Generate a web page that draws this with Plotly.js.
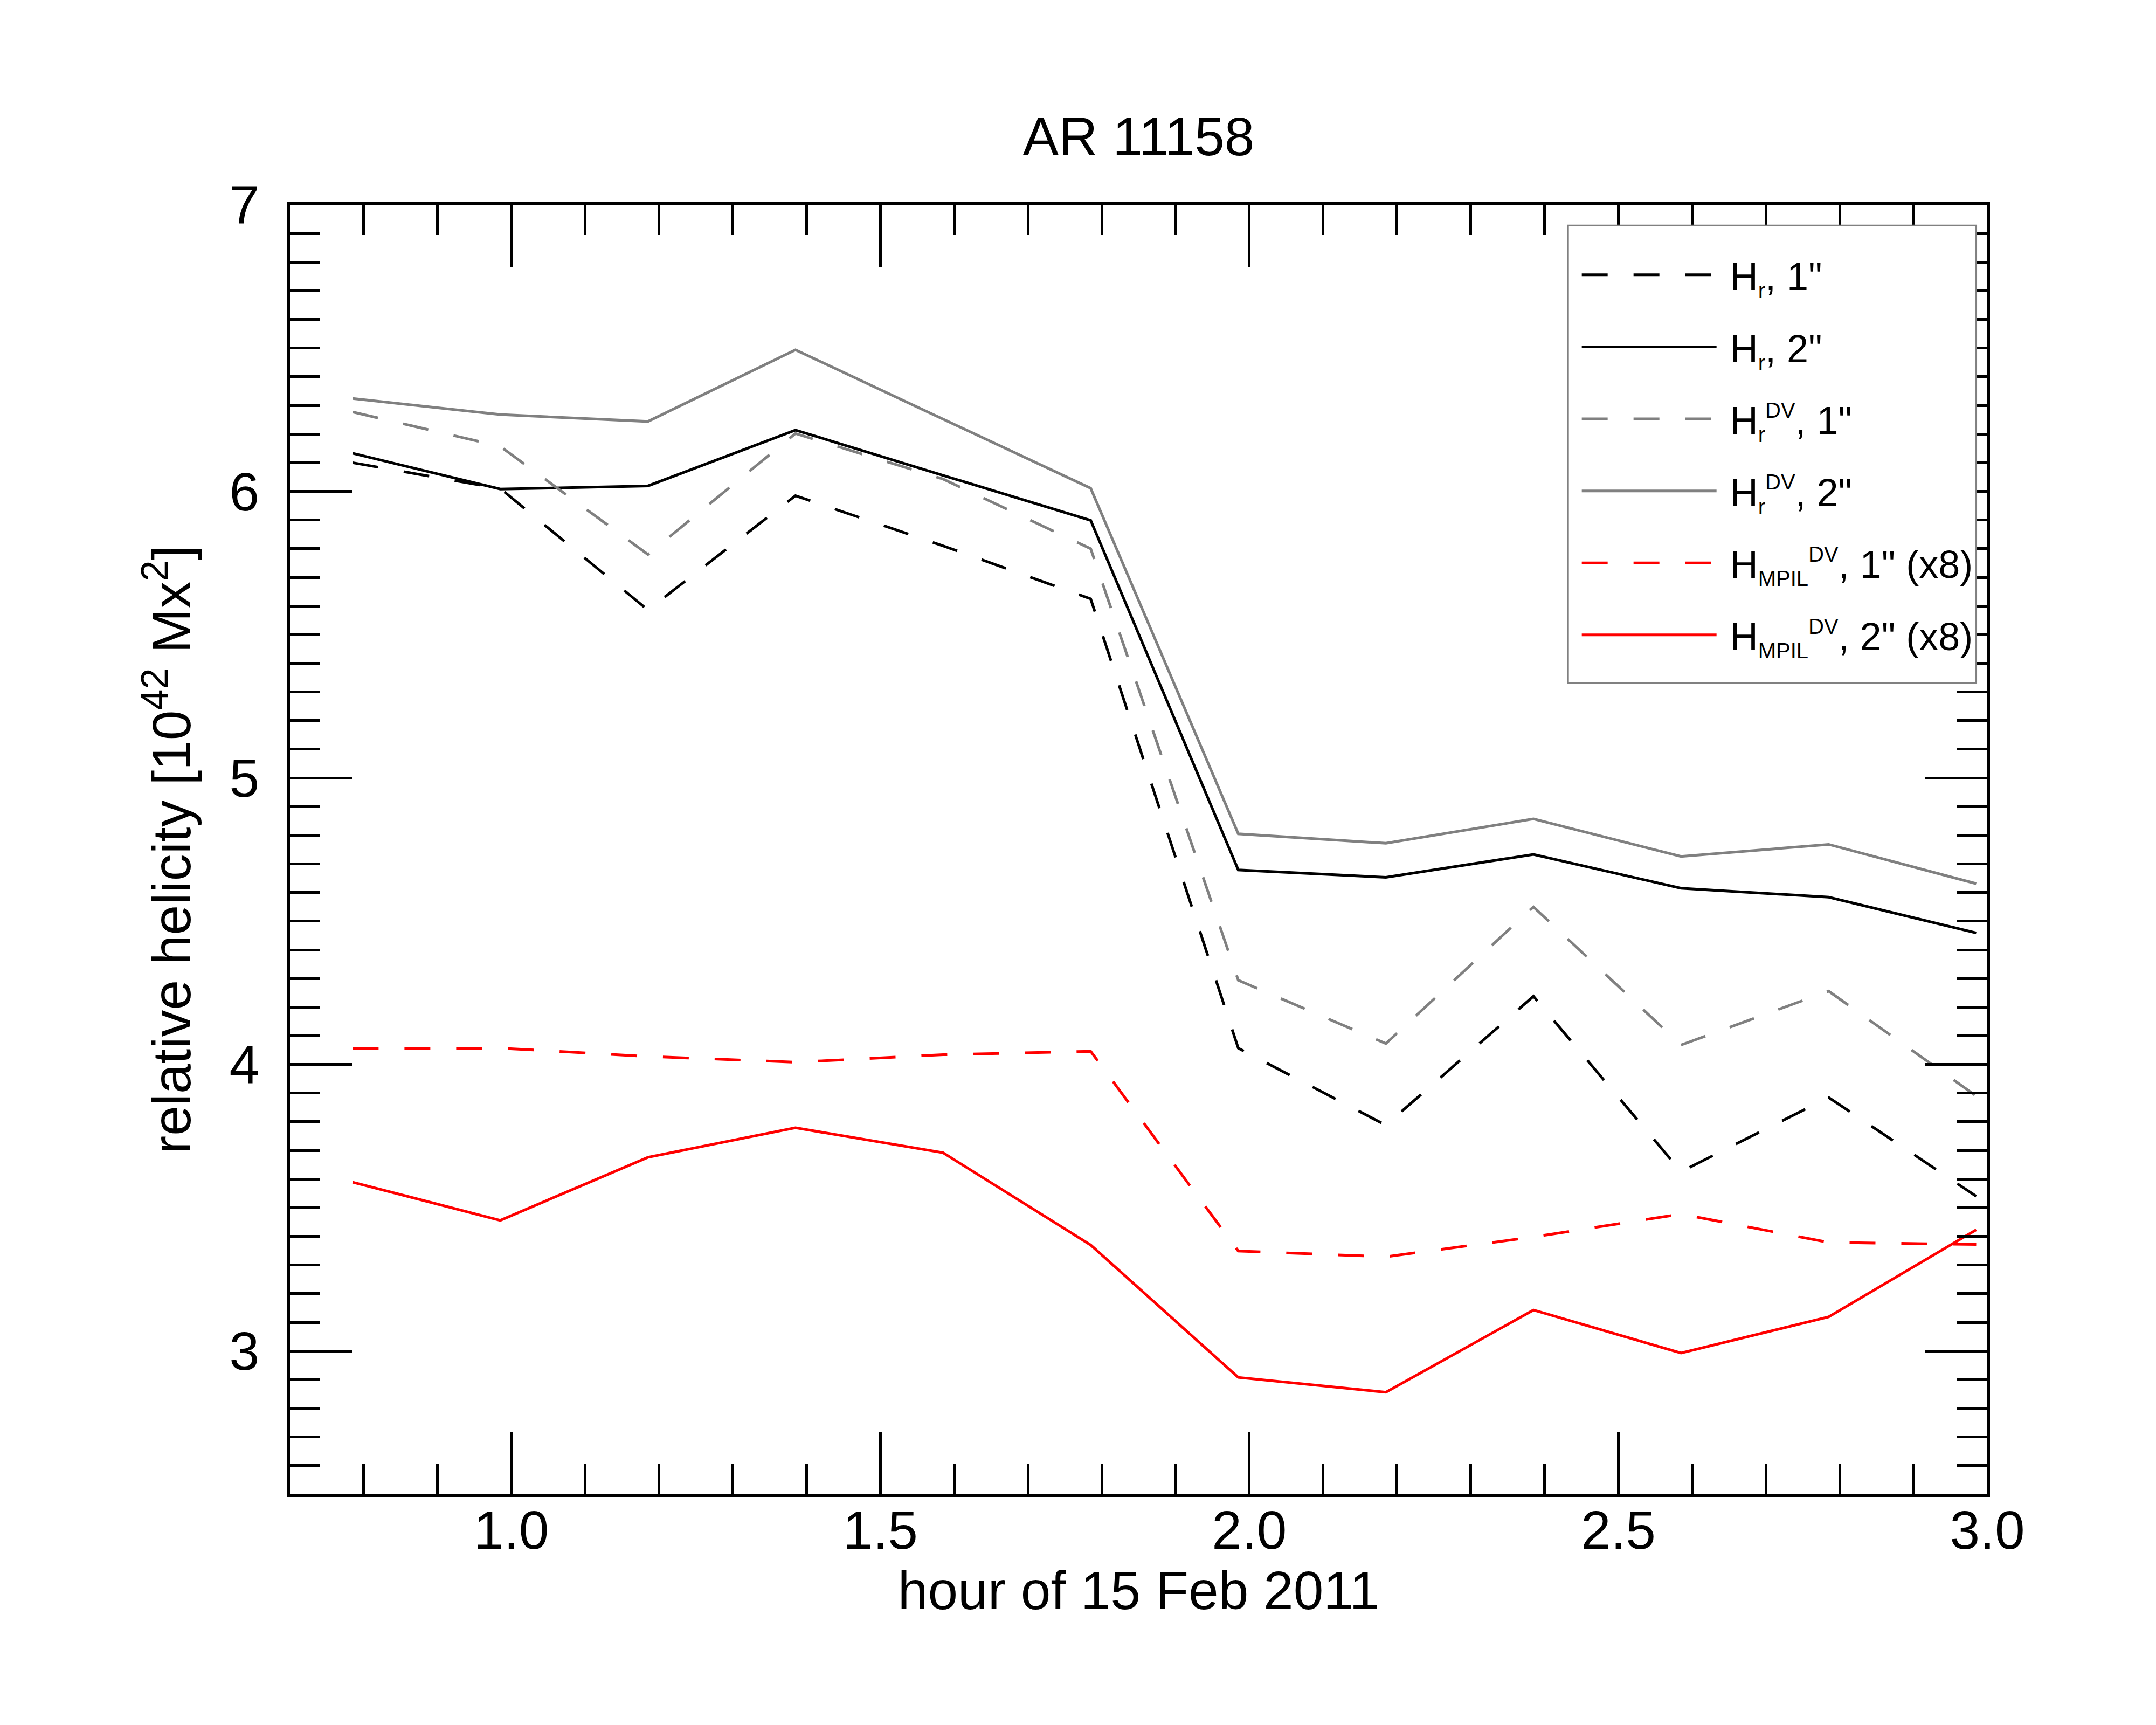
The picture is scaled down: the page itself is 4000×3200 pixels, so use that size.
<!DOCTYPE html>
<html>
<head>
<meta charset="utf-8">
<script src="https://cdn.plot.ly/plotly-3.0.1.min.js"></script>
<style>
  body { margin: 0; background: white; }
  #graph { width: 4000px; height: 3200px; }
</style>
</head>
<body>
<div id="graph"></div>
<script>
// hour of 15 Feb 2011, one frame every 12 min
var hours = [0.785, 0.985, 1.185, 1.385, 1.585, 1.785, 1.985, 2.185, 2.385, 2.585, 2.785, 2.985];

// relative helicity, 10^42 Mx^2
var hr1 = [6.10, 6.01, 5.586, 5.985, 5.81, 5.625, 4.057, 3.788, 4.238, 3.626, 3.885, 3.54];
var hr2 = [6.133, 6.008, 6.019, 6.214, 6.056, 5.899, 4.679, 4.653, 4.733, 4.615, 4.584, 4.459];
var hrDV1 = [6.277, 6.157, 5.78, 6.202, 6.043, 5.80, 4.294, 4.073, 4.55, 4.068, 4.256, 3.89];
var hrDV2 = [6.324, 6.268, 6.244, 6.494, 6.252, 6.011, 4.805, 4.772, 4.857, 4.726, 4.768, 4.631];
// MPIL values, already multiplied by 8
var mpil1 = [4.055, 4.057, 4.028, 4.008, 4.034, 4.046, 3.349, 3.329, 3.398, 3.478, 3.379, 3.372];
var mpil2 = [3.589, 3.456, 3.676, 3.779, 3.692, 3.370, 2.908, 2.856, 3.143, 2.993, 3.119, 3.423];

// smaller sub/superscripts, like the IDL labels
function sm(t){ return '<span style="font-size:40px">' + t + '</span>'; }
var sp = '\u00a0'; // small gap between line sample and label
var names = [
    sp + 'H<sub>' + sm('r') + '</sub>, 1"',
    sp + 'H<sub>' + sm('r') + '</sub>, 2"',
    sp + 'H<sub>' + sm('r') + '</sub><sup>' + sm('DV') + '</sup>, 1"',
    sp + 'H<sub>' + sm('r') + '</sub><sup>' + sm('DV') + '</sup>, 2"',
    sp + 'H<sub>' + sm('MPIL') + '</sub><sup>' + sm('DV') + '</sup>, 1" (x8)',
    sp + 'H<sub>' + sm('MPIL') + '</sub><sup>' + sm('DV') + '</sup>, 2" (x8)'
];

var dashed = '48px,48px';
function line(y, i, color, dash){
    return {
        x: hours, y: y, name: names[i], legendgroup: 'g' + i,
        type: 'scatter', mode: 'lines',
        line: {color: color, width: 5, dash: dash}
    };
}

var data = [
    line(hr1, 0, 'black', dashed),
    line(hr2, 1, 'black', 'solid'),
    line(hrDV1, 2, '#808080', dashed),
    line(hrDV2, 3, '#808080', 'solid'),
    line(mpil1, 4, '#ff0000', dashed),
    line(mpil2, 5, '#ff0000', 'solid')
];

var fontFam = 'Liberation Sans, Arial, Helvetica, sans-serif';
var axisCommon = {
    ticks: 'inside', ticklen: 115, tickwidth: 5, tickcolor: 'black',
    showline: true, linewidth: 5, linecolor: 'black', mirror: 'allticks',
    showgrid: false, zeroline: false,
    tickfont: {size: 100, color: 'black'}
};

var layout = {
    width: 4000, height: 3200,
    paper_bgcolor: 'white', plot_bgcolor: 'white',
    font: {family: fontFam, color: 'black'},
    margin: {l: 538, r: 313, t: 380, b: 428, pad: 0},
    showlegend: true,
    title: {
        text: 'AR 11158', font: {size: 100, color: 'black'},
        x: 0.5, xref: 'paper', y: 0.921, yref: 'container', yanchor: 'middle'
    },
    xaxis: Object.assign({}, axisCommon, {
        range: [0.7, 3.0], tick0: 0, dtick: 0.5, tickformat: '.1f',
        minor: {tick0: 0, dtick: 0.1, ticks: 'inside', ticklen: 56, tickwidth: 5, tickcolor: 'black'},
        ticklabelstandoff: -24,
        title: {text: 'hour of 15 Feb 2011', font: {size: 100}, standoff: 12}
    }),
    yaxis: Object.assign({}, axisCommon, {
        range: [2.5, 7], tick0: 0, dtick: 1,
        minor: {tick0: 0, dtick: 0.1, ticks: 'inside', ticklen: 56, tickwidth: 5, tickcolor: 'black'},
        ticklabelstandoff: 32,
        title: {text: 'relative helicity [10<sup>42</sup> Mx<sup>2</sup>]', font: {size: 100}, standoff: 40}
    }),
    // legend frame drawn as a shape so the entries can sit with more padding
    shapes: [{
        type: 'rect', xref: 'paper', yref: 'paper', layer: 'above',
        x0: 0.753, x1: 0.9935, y0: 0.6294, y1: 0.984,
        fillcolor: 'white', line: {color: '#808080', width: 3}
    }],
    legend: {
        x: 0.7595, xanchor: 'left', y: 0.968, yanchor: 'top',
        bgcolor: 'rgba(0,0,0,0)', borderwidth: 0,
        font: {size: 72, color: 'black'},
        itemwidth: 250, tracegroupgap: 37
    }
};

Plotly.newPlot('graph', data, layout, {staticPlot: true});
</script>
</body>
</html>
